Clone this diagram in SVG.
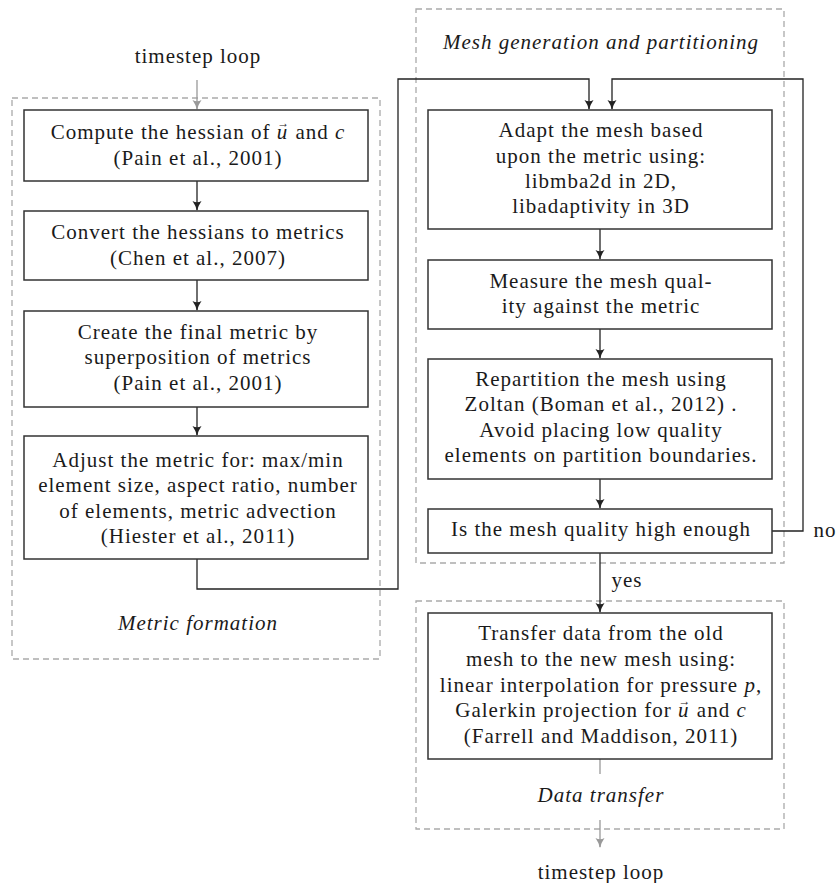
<svg xmlns="http://www.w3.org/2000/svg" width="836" height="883" viewBox="0 0 836 883">
<style>
text{font-family:"Liberation Serif","DejaVu Serif",serif;font-size:21px;letter-spacing:1px;fill:#1a1a1a;text-anchor:middle}
.it{font-style:italic}
.ar{font-size:12px;letter-spacing:0}
.box{fill:#fff;stroke:#333;stroke-width:1.5}
.frame{fill:none;stroke:#aaa;stroke-width:1.3;stroke-dasharray:6,4}
.c{fill:none;stroke:#222;stroke-width:1.3}
.g{fill:none;stroke:#999;stroke-width:1.3}
</style>
<defs>
<marker id="ah" markerWidth="12" markerHeight="12" refX="10" refY="6" orient="auto" markerUnits="userSpaceOnUse">
<path d="M1,1.5 Q6,5 11,6 Q6,7 1,10.5 Q3.5,6 1,1.5 Z" fill="#222"/>
</marker>
<marker id="ahg" markerWidth="12" markerHeight="12" refX="10" refY="6" orient="auto" markerUnits="userSpaceOnUse">
<path d="M1,1.5 Q6,5 11,6 Q6,7 1,10.5 Q3.5,6 1,1.5 Z" fill="#999"/>
</marker>
</defs>
<g id="frames">
<rect class="frame" x="12" y="98" width="368" height="561"/>
<rect class="frame" x="416" y="9" width="368" height="554"/>
<rect class="frame" x="416" y="601" width="368" height="228"/>
<text class="it" x="198" y="630">Metric formation</text>
<text class="it" x="601" y="49">Mesh generation and partitioning</text>
<text class="it" x="601" y="802">Data transfer</text>
</g>
<g id="connectors">
<path class="g" d="M197,80 V109" marker-end="url(#ahg)"/>
<path class="c" d="M197,181 V210" marker-end="url(#ah)"/>
<path class="c" d="M197,280 V310" marker-end="url(#ah)"/>
<path class="c" d="M197,407 V435" marker-end="url(#ah)"/>
<path class="c" d="M197,559 V589 H398 V79 H589 V109" marker-end="url(#ah)"/>
<path class="c" d="M600,229 V259" marker-end="url(#ah)"/>
<path class="c" d="M600,329 V358" marker-end="url(#ah)"/>
<path class="c" d="M600,479 V508" marker-end="url(#ah)"/>
<path class="c" d="M772,531 H803 V79 H612 V109" marker-end="url(#ah)"/>
<path class="c" d="M600,553 V612" marker-end="url(#ah)"/>
<path class="g" d="M600,759 V774"/>
<path class="g" d="M600,820 V847" marker-end="url(#ahg)"/>
<text x="198" y="63">timestep loop</text>
<text x="601" y="879">timestep loop</text>
<text x="627" y="587">yes</text>
<text x="825" y="537">no</text>
</g>
<g id="n1">
<rect class="box" x="24" y="110" width="344" height="71"/>
<text x="198" y="139">Compute the hessian of <tspan class="it">u</tspan><tspan class="ar" dx="-11" dy="-12">→</tspan><tspan dy="12"> and </tspan><tspan class="it">c</tspan></text>
<text x="198" y="165">(Pain et al., 2001)</text>
</g>
<g id="n2">
<rect class="box" x="24" y="211" width="344" height="69"/>
<text x="198" y="239">Convert the hessians to metrics</text>
<text x="198" y="265">(Chen et al., 2007)</text>
</g>
<g id="n3">
<rect class="box" x="24" y="311" width="344" height="96"/>
<text x="198" y="339">Create the final metric by</text>
<text x="198" y="364">superposition of metrics</text>
<text x="198" y="390">(Pain et al., 2001)</text>
</g>
<g id="n4">
<rect class="box" x="24" y="436" width="344" height="123"/>
<text x="198" y="467">Adjust the metric for:  max/min</text>
<text x="198" y="492">element size, aspect ratio, number</text>
<text x="198" y="518">of elements, metric advection</text>
<text x="198" y="543">(Hiester et al., 2011)</text>
</g>
<g id="nA">
<rect class="box" x="428" y="110" width="344" height="119"/>
<text x="601" y="137">Adapt the mesh based</text>
<text x="601" y="163">upon the metric using:</text>
<text x="601" y="188">libmba2d in 2D,</text>
<text x="601" y="213">libadaptivity in 3D</text>
</g>
<g id="nB">
<rect class="box" x="428" y="260" width="344" height="69"/>
<text x="601" y="288">Measure the mesh qual-</text>
<text x="601" y="313">ity against the metric</text>
</g>
<g id="nC">
<rect class="box" x="428" y="359" width="344" height="120"/>
<text x="601" y="386">Repartition the mesh using</text>
<text x="601" y="411">Zoltan (Boman et al., 2012) .</text>
<text x="601" y="437">Avoid placing low quality</text>
<text x="601" y="462">elements on partition boundaries.</text>
</g>
<g id="nD">
<rect class="box" x="428" y="509" width="344" height="44"/>
<text x="601" y="536">Is the mesh quality high enough</text>
</g>
<g id="nE">
<rect class="box" x="428" y="613" width="344" height="146"/>
<text x="601" y="640">Transfer data from the old</text>
<text x="601" y="666">mesh to the new mesh using:</text>
<text x="601" y="692">linear interpolation for pressure <tspan class="it">p</tspan>,</text>
<text x="601" y="717">Galerkin projection for <tspan class="it">u</tspan><tspan class="ar" dx="-11" dy="-12">→</tspan><tspan dy="12"> and </tspan><tspan class="it">c</tspan></text>
<text x="601" y="743">(Farrell and Maddison, 2011)</text>
</g>
</svg>
